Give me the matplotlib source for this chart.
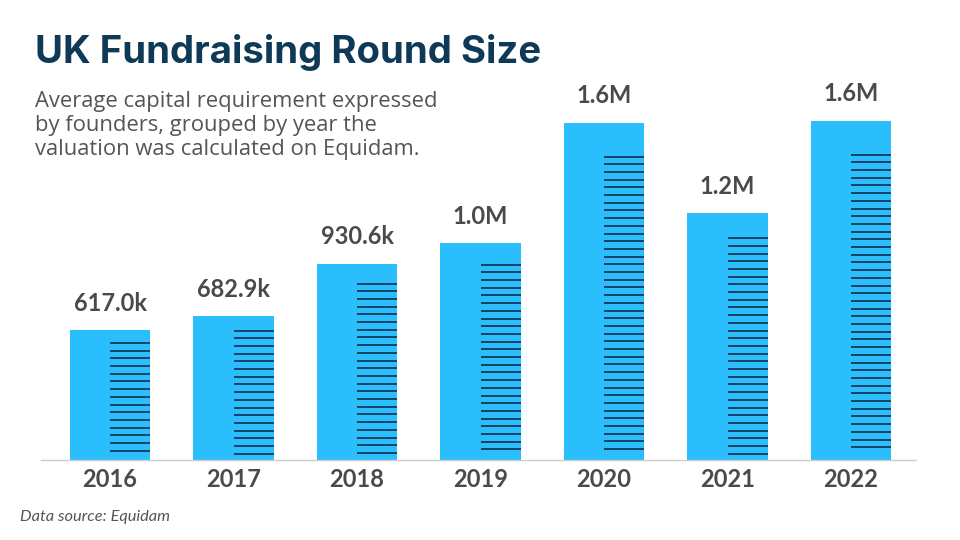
import numpy as np
import matplotlib
matplotlib.use("Agg")
import matplotlib.pyplot as plt

# Data (values in thousands)
years = ['2016', '2017', '2018', '2019', '2020', '2021', '2022']
values = [617.0, 682.9, 930.6, 1030.0, 1600.0, 1170.0, 1610.0]
value_labels = ['617.0k', '682.9k', '930.6k', '1.0M', '1.6M', '1.2M', '1.6M']

title = 'UK Fundraising Round Size'
subtitle = ['Average capital requirement expressed',
            'by founders, grouped by year the',
            'valuation was calculated on Equidam.']
source = 'Data source: Equidam'

bar_color = '#2bbefd'
line_color = '#15395a'
text_gray = '#4a4a4a'

W, H = 960, 540
fig = plt.figure(figsize=(W / 100, H / 100), dpi=100)
fig.patch.set_facecolor('white')

# axes placed in pixel terms: baseline at y=460 px, x from 41 to 916 px
ax = fig.add_axes([41 / W, 80 / H, 875 / W, 460 / H])
px_per_unit = 0.2107  # pixels per thousand
ax.set_ylim(0, 460 / px_per_unit)
ax.set_xlim(-(110 - 41) / 123.5, 6 + (916 - 851) / 123.5)

x = np.arange(len(years))
bw = 0.648
ax.bar(x, values, width=bw, color=bar_color, zorder=2)

# horizontal stripes on the right half of each bar
step = 7.7 / px_per_unit
for xi, v in zip(x, values):
    top = 0.9 * v
    ys = np.arange(top, step * 0.8, -step)
    ax.hlines(ys, xi, xi + bw / 2, color=line_color, linewidth=1.3, zorder=3)

for xi, v, lab in zip(x, values, value_labels):
    ax.annotate(lab, (xi, v), xytext=(0, 14), textcoords='offset points',
                ha='center', va='baseline', fontsize=17, fontweight='bold',
                color=text_gray, family='Lato')

for s in ['top', 'right', 'left']:
    ax.spines[s].set_visible(False)
ax.spines['bottom'].set_color('#cccccc')
ax.spines['bottom'].set_linewidth(1.0)
ax.set_yticks([])
ax.set_xticks(x)
ax.set_xticklabels(years, fontsize=17, fontweight='bold', color=text_gray,
                   family='Lato')
ax.tick_params(axis='x', length=0, pad=6)

fig.text(35 / W, 1 - 63 / H, title, fontsize=27.6, fontweight='bold',
         color='#0f3a57', family='Inter', va='baseline', ha='left')
for i, line in enumerate(subtitle):
    fig.text(35 / W, 1 - (107 + 24 * i) / H, line, fontsize=15.8,
             color='#555555', family='Open Sans', va='baseline', ha='left')
fig.text(20 / W, 1 - 521 / H, source, fontsize=11.8, style='italic',
         color='#555555', family='Lato', va='baseline', ha='left')

fig.savefig('out.png', dpi=100, facecolor='white')
